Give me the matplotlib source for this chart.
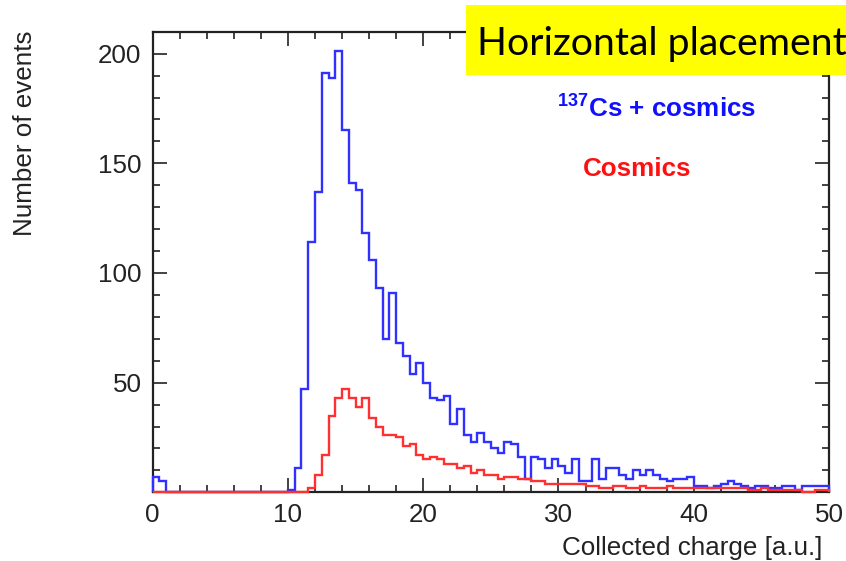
import numpy as np
import matplotlib.pyplot as plt
from matplotlib.patches import Rectangle

plt.rcParams['font.family'] = ['Liberation Sans', 'DejaVu Sans']
plt.rcParams['mathtext.fontset'] = 'custom'
plt.rcParams['mathtext.rm'] = 'Liberation Sans'
plt.rcParams['mathtext.bf'] = 'Liberation Sans:bold'

# histogram: 100 bins of 0.5 a.u. from 0 to 50
bin_edges = np.linspace(0, 50, 101)

cs_cosmics = [
    7, 5, 0, 0, 0, 0, 0, 0, 0, 0,
    0, 0, 0, 0, 0, 0, 0, 0, 0, 0,
    1, 11, 47, 114, 137, 191, 189, 201, 165, 141,
    138, 118, 106, 93, 70, 91, 68, 62, 54, 59,
    50, 43, 42, 44, 31, 38, 26, 23, 27, 23,
    20, 18, 23, 22, 16, 6, 16, 15, 11, 15,
    12, 9, 15, 5, 5, 15, 6, 11, 11, 8,
    6, 10, 8, 10, 8, 6, 5, 6, 6, 7,
    3, 3, 2, 3, 4, 5, 4, 3, 2, 3,
    3, 2, 2, 3, 3, 1, 3, 3, 3, 3,
]

cosmics = [
    0, 0, 0, 0, 0, 0, 0, 0, 0, 0,
    0, 0, 0, 0, 0, 0, 0, 0, 0, 0,
    0, 0, 0, 2, 8, 17, 35, 43, 47, 43,
    39, 43, 34, 30, 26, 26, 25, 21, 22, 17,
    15, 16, 15, 13, 13, 11, 12, 9, 10, 8,
    8, 6, 7, 7, 6, 6, 5, 5, 4, 4,
    4, 4, 4, 4, 3, 3, 2, 2, 3, 3,
    2, 2, 3, 2, 2, 2, 3, 2, 2, 2,
    2, 2, 2, 2, 2, 2, 2, 2, 1, 1,
    2, 1, 1, 1, 1, 1, 0, 0, 1, 1,
]

x_ticks = [0, 10, 20, 30, 40, 50]
y_ticks = [50, 100, 150, 200]

W, H = 846, 561
fig = plt.figure(figsize=(W / 100, H / 100), dpi=100)
ax = fig.add_axes([152.7 / W, 1 - 492.3 / H, (829 - 152.7) / W, (492.3 - 31.7) / H])

ax.stairs(cs_cosmics, bin_edges, color='#3030ff', lw=1.7, zorder=3, clip_on=False)
ax.stairs(cosmics, bin_edges, color='#ff3030', lw=1.7, zorder=3, clip_on=False)

ax.set_xlim(0, 50)
ax.set_ylim(0, 210)
ax.set_xticks(x_ticks)
ax.set_xticks(np.arange(0, 51, 2), minor=True)
ax.set_yticks(y_ticks)
ax.set_yticks(np.arange(0, 211, 10), minor=True)

ax.tick_params(which='both', direction='in', top=True, right=True,
               colors='#222222', labelsize=18.7, width=1.2)
ax.tick_params(which='major', length=10)
ax.tick_params(which='minor', length=5)
ax.tick_params(axis='x', pad=8)
ax.tick_params(axis='y', pad=8)
for sp in ax.spines.values():
    sp.set_linewidth(1.6)
    sp.set_color('#222222')

ax.set_xlabel('Collected charge [a.u.]', fontsize=18.7, color='#222222')
ax.xaxis.set_label_coords((822 - 152.7) / 676.3, (492.3 - 555) / 460.6)
ax.xaxis.label.set_ha('right')
ax.xaxis.label.set_va('baseline')

ax.set_ylabel('Number of events', fontsize=18.7, color='#222222')
ax.yaxis.set_label_coords((25 - 152.7) / 676.3, (492.3 - 30) / 460.6)
ax.yaxis.label.set_ha('right')
ax.yaxis.label.set_va('center')

fig.text(557 / W, 1 - 118 / H, r'$\mathbf{^{137}}$Cs + cosmics', color='#1010ff',
         fontsize=18.7, fontweight='bold', ha='left', va='baseline')
fig.text(583 / W, 1 - 176 / H, 'Cosmics', color='#ff1010',
         fontsize=18.7, fontweight='bold', ha='left', va='baseline')

# yellow title box reaching the right edge of the image
fig.patches.append(Rectangle((466 / W, 1 - 75 / H), (W - 466) / W, 70 / H,
                             transform=fig.transFigure, facecolor='#ffff00',
                             edgecolor='none', zorder=10))
fig.text(477 / W, 1 - 55 / H, 'Horizontal placement', fontsize=28.3,
         family=['Lato', 'DejaVu Sans'], color='black', ha='left', va='baseline',
         zorder=11)

fig.savefig('out.png', dpi=100)
